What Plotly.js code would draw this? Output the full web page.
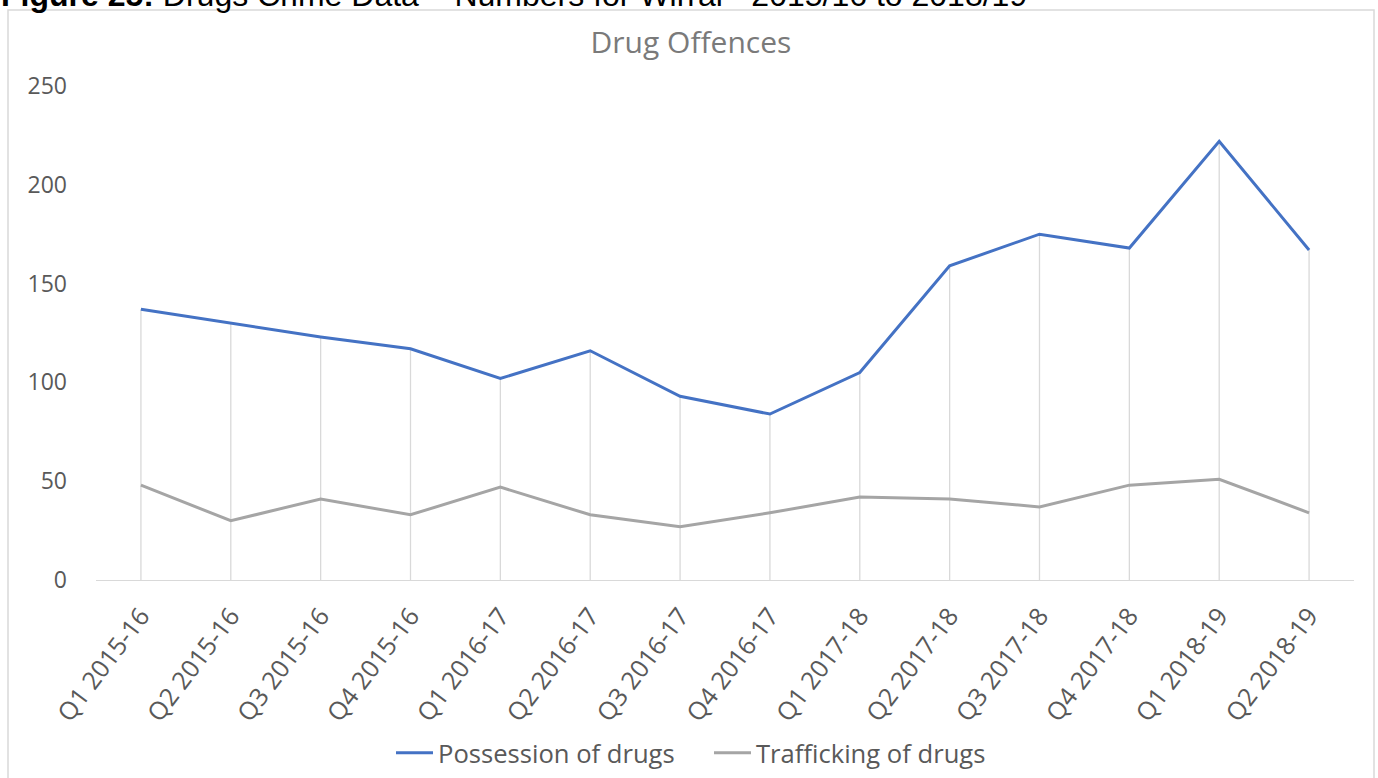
<!DOCTYPE html>
<html>
<head>
<meta charset="utf-8">
<script src="https://cdn.plot.ly/plotly-3.0.1.min.js"></script>
<style>
  html, body { margin: 0; padding: 0; background: #ffffff; }
  #chart { width: 1378px; height: 778px; }
</style>
</head>
<body>
<div id="chart"></div>
<script>
// Quarterly drug offence counts for Wirral
const quarters = [
  "Q1 2015-16", "Q2 2015-16", "Q3 2015-16", "Q4 2015-16",
  "Q1 2016-17", "Q2 2016-17", "Q3 2016-17", "Q4 2016-17",
  "Q1 2017-18", "Q2 2017-18", "Q3 2017-18", "Q4 2017-18",
  "Q1 2018-19", "Q2 2018-19"
];
const possession = [137, 130, 123, 117, 102, 116, 93, 84, 105, 159, 175, 168, 222, 167];
const trafficking = [48, 30, 41, 33, 47, 33, 27, 34, 42, 41, 37, 48, 51, 34];
const yTicks = [0, 50, 100, 150, 200, 250];

const W = 1378, H = 778;
const M = { l: 96, r: 24, t: 86, b: 198 };
const PW = W - M.l - M.r, PH = H - M.t - M.b;
// pixel -> paper helpers for decorations outside the plot area
const px = x => (x - M.l) / PW;
const py = y => (H - M.b - y) / PH;
// horizontal centre of the framed chart box
const boxCentre = (8 + 1374) / 2 / W;

const textGrey = "#595959";
const font = "Open Sans, Noto Sans, sans-serif";

// drop lines from the axis up to the higher of the two series
const dropX = [], dropY = [];
quarters.forEach((q, i) => {
  dropX.push(q, q, null);
  dropY.push(0, Math.max(possession[i], trafficking[i]), null);
});

const traces = [
  {
    x: dropX, y: dropY, type: "scatter", mode: "lines",
    line: { color: "#d9d9d9", width: 1.3 },
    showlegend: false, hoverinfo: "skip"
  },
  {
    x: quarters, y: possession, type: "scatter", mode: "lines",
    name: "Possession of drugs",
    line: { color: "#4472c4", width: 3 }
  },
  {
    x: quarters, y: trafficking, type: "scatter", mode: "lines",
    name: "Trafficking of drugs",
    line: { color: "#a5a5a5", width: 3 }
  }
];

const layout = {
  width: W, height: H,
  margin: M,
  paper_bgcolor: "#ffffff",
  plot_bgcolor: "#ffffff",
  font: { family: font, color: textGrey },
  title: {
    text: "Drug Offences",
    font: { family: font, size: 30, color: "#7a7a7a" },
    x: boxCentre, xanchor: "center", xref: "container",
    y: 1 - 42 / H, yanchor: "middle", yref: "container"
  },
  xaxis: {
    type: "category",
    categoryorder: "array", categoryarray: quarters,
    range: [-0.5, quarters.length - 0.5],
    showgrid: false, zeroline: false,
    showline: true, linecolor: "#d9d9d9", linewidth: 1.3,
    ticks: "", tickangle: -53,
    ticklabelstandoff: 10,
    tickfont: { family: font, size: 25, color: textGrey }
  },
  yaxis: {
    range: [0, 250],
    tickvals: yTicks, ticktext: yTicks.map(String),
    showgrid: false, zeroline: false, showline: false,
    ticks: "", ticklabelstandoff: 28,
    tickfont: { family: font, size: 23, color: textGrey }
  },
  legend: {
    orientation: "h",
    x: 391 / W, xanchor: "left", xref: "container",
    y: 1 - 753 / H, yanchor: "middle", yref: "container",
    font: { family: font, size: 25.6, color: textGrey },
    itemwidth: 37, entrywidth: 266, tracegroupgap: 0
  },
  shapes: [
    {
      type: "rect", xref: "paper", yref: "paper",
      x0: px(8), x1: px(1374), y0: py(800), y1: py(10),
      line: { color: "#d9d9d9", width: 1.5 },
      fillcolor: "rgba(0,0,0,0)", layer: "below"
    }
  ],
  annotations: [
    {
      xref: "paper", yref: "paper",
      x: px(0), xanchor: "left",
      y: py(14), yanchor: "bottom",
      showarrow: false,
      text: "<b>Figure 25:</b> Drugs Crime Data – Numbers for Wirral - 2015/16 to 2018/19",
      font: { family: "Liberation Sans, Arial, sans-serif", size: 32, color: "#000000" },
      borderpad: 0
    }
  ],
  showlegend: true
};

Plotly.newPlot("chart", traces, layout, { displayModeBar: false, staticPlot: true });
</script>
</body>
</html>
